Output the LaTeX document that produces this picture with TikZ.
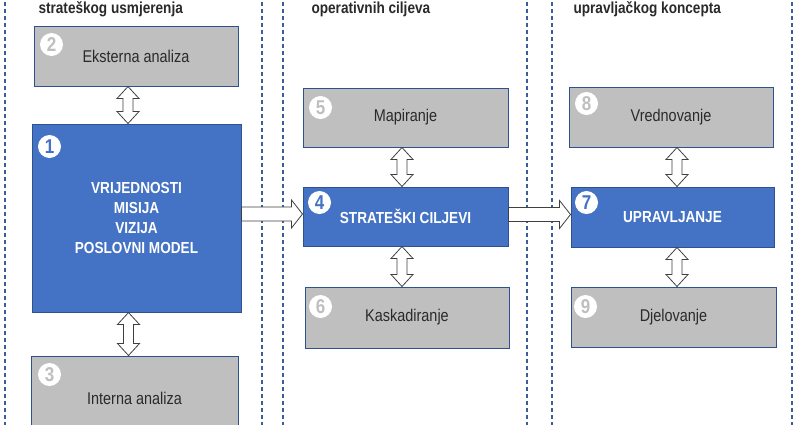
\documentclass[tikz,border=0pt]{standalone}
\usepackage{fontspec}
\setmainfont[FakeStretch=0.85]{Liberation Sans}
\usetikzlibrary{calc}
\definecolor{boxblue}{HTML}{4472C4}
\definecolor{edgeblue}{HTML}{2F528F}
\definecolor{boxgray}{HTML}{BFBFBF}
\definecolor{dashblue}{HTML}{3A5F9A}
\definecolor{txtgray}{HTML}{2A2A2A}
\newcommand\vdarr[3]{%
  \draw[fatar] let \p1=($(#1.south)+(#3,0)$), \p2=(#2.north) in
  (\x1,\y1) -- (\x1+11pt,\y1-12pt) -- (\x1+5pt,\y1-12pt) -- (\x1+5pt,\y2+12pt) --
  (\x1+11pt,\y2+12pt) -- (\x1,\y2) -- (\x1-11pt,\y2+12pt) -- (\x1-5pt,\y2+12pt) --
  (\x1-5pt,\y1-12pt) -- (\x1-11pt,\y1-12pt) -- cycle;}
\newcommand\hsarr[2]{%
  \draw[fatar] let \p1=(#1.east), \p2=($(#2.west)+(0,-2.5)$) in
  (\x1,\y2+7pt) -- (\x2-11pt,\y2+7pt) -- (\x2-11pt,\y2+14pt) -- (\x2,\y2) --
  (\x2-11pt,\y2-14pt) -- (\x2-11pt,\y2-7pt) -- (\x1,\y2-7pt) -- cycle;}
\begin{document}
\begin{tikzpicture}[x=1pt,y=-1pt,
  graybox/.style={draw=edgeblue, line width=1pt, fill=boxgray, inner sep=0pt,
    text=txtgray, font=\fontsize{17}{20}\selectfont},
  bluebox/.style={draw=edgeblue, line width=1pt, fill=boxblue, inner sep=0pt,
    text=white, font=\bfseries\fontsize{16}{20.3}\selectfont, align=center},
  numcirc/.style={circle, fill=white, inner sep=0pt, minimum size=23pt,
    font=\bfseries\fontsize{20}{20}\selectfont},
  fatar/.style={draw=black!75, fill=white, line width=0.8pt, line join=miter},
  sepline/.style={dashblue, line width=1.3pt, dash pattern=on 4pt off 3pt},
  headtext/.style={anchor=base west, text=txtgray, font=\bfseries\fontsize{16}{18}\selectfont}]
\useasboundingbox (0,0) rectangle (800,424);
\fill[white] (0,0) rectangle (800,424);

% column separators
\foreach \xx/\nm in {5/s1,262/s2,283/s3,527/s4,552/s5,792/s6}{
  \coordinate (\nm t) at (\xx,-5);
  \coordinate (\nm b) at (\xx,430);
  \draw[sepline] (\nm t) -- (\nm b);
}

% headers
\node[headtext] (h1) at (35,13) {strateškog usmjerenja};
\node[headtext] (h2) at (308,13) {operativnih ciljeva};
\node[headtext] (h3) at (570,13) {upravljačkog koncepta};

% column 1
\node[graybox, minimum width=204pt, minimum height=60pt] (b2) at (136,56) {Eksterna analiza};
\node[bluebox, minimum width=209pt, minimum height=188pt] (b1) at (136.5,218)
  {VRIJEDNOSTI\\MISIJA\\VIZIJA\\POSLOVNI MODEL};
\node[graybox, minimum width=207pt, minimum height=84pt] (b3) at (134.5,398) {Interna analiza};

% column 2
\node[graybox, minimum width=205pt, minimum height=59pt] (b5) at (405.5,117.5) {Mapiranje};
\node[bluebox, minimum width=205pt, minimum height=59pt] (b4) at (405.5,216.5) {STRATEŠKI CILJEVI};
\node[graybox, minimum width=204pt, minimum height=61pt] (b6) at (407,317.5) {Kaskadiranje};

% column 3
\node[graybox, minimum width=204pt, minimum height=60pt] (b8) at (671,117) {Vrednovanje};
\node[bluebox, minimum width=203pt, minimum height=60pt] (b7) at (672.5,217) {UPRAVLJANJE};
\node[graybox, minimum width=205pt, minimum height=60pt] (b9) at (673.5,317) {Djelovanje};

% number circles
\node[numcirc, text=boxgray] (n2) at ($(b2.north west)+(18,19)$) {2};
\node[numcirc, text=boxblue] (n1) at ($(b1.north west)+(18,23)$) {1};
\node[numcirc, text=boxgray] (n3) at ($(b3.north west)+(19,19)$) {3};
\node[numcirc, text=boxgray] (n5) at ($(b5.north west)+(18,20)$) {5};
\node[numcirc, text=boxblue] (n4) at ($(b4.north west)+(17,16)$) {4};
\node[numcirc, text=boxgray] (n6) at ($(b6.north west)+(16,20)$) {6};
\node[numcirc, text=boxgray] (n8) at ($(b8.north west)+(18,17)$) {8};
\node[numcirc, text=boxblue] (n7) at ($(b7.north west)+(16,16)$) {7};
\node[numcirc, text=boxgray] (n9) at ($(b9.north west)+(15,20)$) {9};

% arrows
\vdarr{b2}{b1}{-8}
\vdarr{b1}{b3}{-8}
\vdarr{b5}{b4}{-3.5}
\vdarr{b4}{b6}{-3.5}
\vdarr{b8}{b7}{6}
\vdarr{b7}{b9}{4.5}
\hsarr{b1}{b4}
\hsarr{b4}{b7}
\end{tikzpicture}
\end{document}
